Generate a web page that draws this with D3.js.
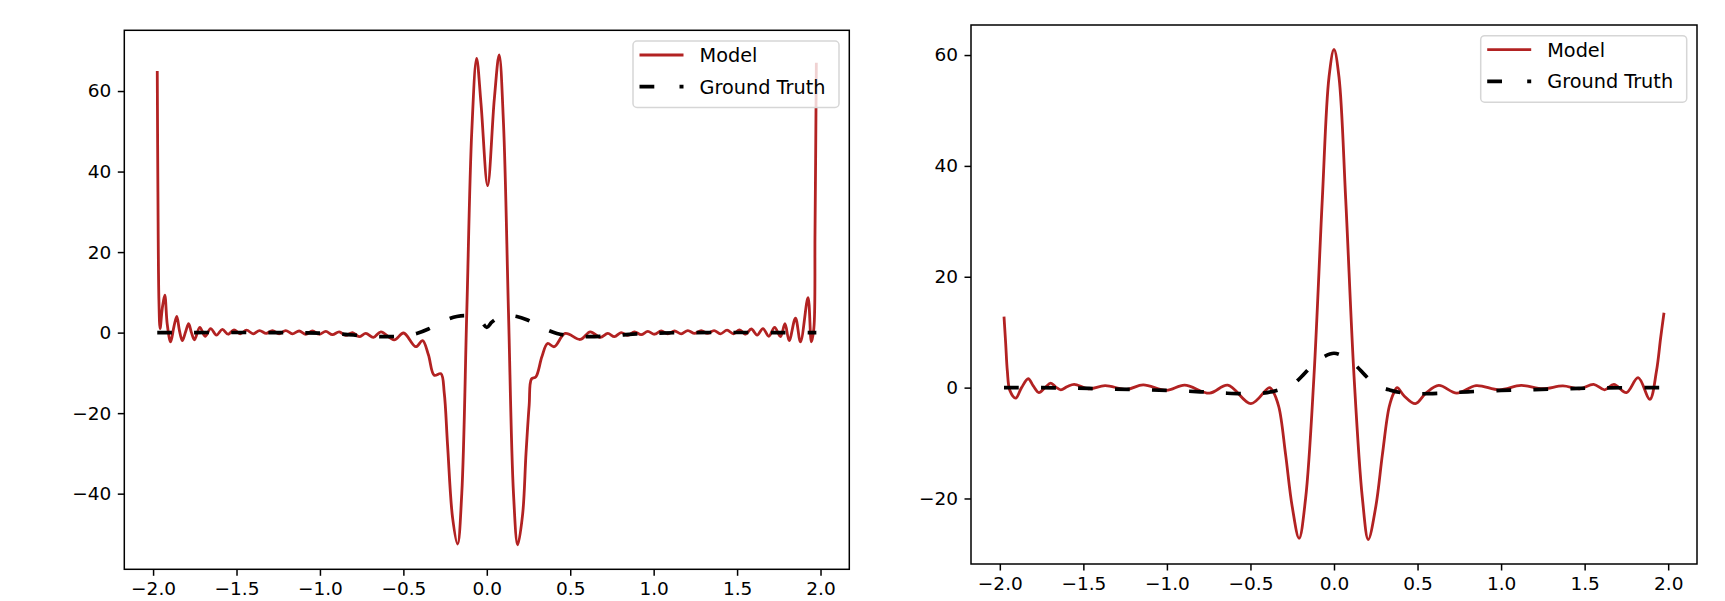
<!DOCTYPE html>
<html>
<head>
<meta charset="utf-8">
<script src="https://cdn.jsdelivr.net/npm/d3@7/dist/d3.min.js"></script>
<style>
  body { margin: 0; background: #fff; }
  svg text { font-family: "DejaVu Sans", sans-serif; }
</style>
</head>
<body>
<div id="chart"></div>
<script>
// tick values shared by both panels
const xTicks = [-2.0, -1.5, -1.0, -0.5, 0.0, 0.5, 1.0, 1.5, 2.0];
const leftYTicks = [-40, -20, 0, 20, 40, 60];
const rightYTicks = [-20, 0, 20, 40, 60];
const seriesNames = ['Model', 'Ground Truth'];

// left panel, model output [x, y]
const leftModel = [
  [-1.975, 65.0], [-1.971, 35.0], [-1.965, 8.0], [-1.958, 1.0], [-1.945, 6.0],
  [-1.930, 9.3], [-1.915, 2.0], [-1.895, -2.3], [-1.875, 1.5], [-1.858, 4.0],
  [-1.842, 0.5], [-1.825, -2.0], [-1.805, 0.2], [-1.787, 2.2], [-1.770, 0.0],
  [-1.752, -1.8], [-1.720, 1.3], [-1.688, -0.9], [-1.655, 1.0], [-1.620, -0.6],
  [-1.585, 0.8], [-1.550, -0.4], [-1.515, 0.7], [-1.478, -0.3], [-1.440, 0.6],
  [-1.400, -0.3], [-1.362, 0.5], [-1.322, -0.2], [-1.285, 0.5], [-1.245, -0.3],
  [-1.205, 0.5], [-1.165, -0.3], [-1.125, 0.4], [-1.085, -0.4], [-1.045, 0.4],
  [-1.005, -0.4], [-0.965, 0.3], [-0.925, -0.5], [-0.885, 0.2], [-0.845, -0.7],
  [-0.805, 0.0], [-0.765, -1.0], [-0.725, -0.2], [-0.680, -1.2], [-0.635, 0.2],
  [-0.555, -1.8], [-0.499, -0.1], [-0.425, -3.5], [-0.385, -2.0], [-0.350, -5.5],
  [-0.315, -10.6], [-0.275, -10.2], [-0.255, -15.0], [-0.235, -28.0], [-0.205, -46.0],
  [-0.175, -52.5], [-0.150, -40.0], [-0.120, 5.0], [-0.090, 50.0], [-0.061, 68.1],
  [-0.035, 57.0], [0.005, 36.5], [0.045, 58.0], [0.074, 69.0], [0.100, 52.0],
  [0.130, 5.0], [0.160, -40.0], [0.185, -52.7], [0.215, -45.0], [0.235, -30.0],
  [0.254, -18.0], [0.268, -11.5], [0.294, -11.0], [0.330, -6.0], [0.364, -2.7],
  [0.404, -3.5], [0.470, -0.2], [0.560, -1.7], [0.620, 0.2], [0.680, -1.2],
  [0.725, -0.2], [0.765, -1.0], [0.805, 0.0], [0.845, -0.7], [0.885, 0.2],
  [0.925, -0.5], [0.965, 0.3], [1.005, -0.4], [1.045, 0.4], [1.085, -0.3],
  [1.125, 0.4], [1.165, -0.3], [1.205, 0.5], [1.245, -0.2], [1.285, 0.5],
  [1.322, -0.2], [1.362, 0.5], [1.400, -0.3], [1.440, 0.6], [1.478, -0.3],
  [1.515, 0.7], [1.550, -0.4], [1.585, 0.9], [1.620, -0.6], [1.655, 1.0],
  [1.690, -0.9], [1.725, 1.3], [1.760, -1.0], [1.787, 2.2], [1.812, -2.0],
  [1.850, 3.6], [1.880, -2.3], [1.925, 8.7], [1.945, -2.3], [1.960, 1.0],
  [1.967, 25.0], [1.975, 67.0]
];

// left panel, ground truth [x, y]
const leftTruth = [
  [-1.975, 0], [-1.2, 0], [-1.0, -0.15], [-0.9, -0.3], [-0.8, -0.6], [-0.7, -0.9],
  [-0.6, -1.0], [-0.5, -0.8], [-0.42, -0.2], [-0.35, 0.9], [-0.3, 2.0], [-0.24, 3.2],
  [-0.18, 4.0], [-0.12, 4.2], [-0.07, 3.7], [-0.03, 2.6], [0, 1.3], [0.03, 2.6],
  [0.07, 3.7], [0.12, 4.2], [0.18, 4.0], [0.24, 3.2], [0.3, 2.0], [0.35, 0.9],
  [0.42, -0.2], [0.5, -0.8], [0.6, -1.0], [0.7, -0.9], [0.8, -0.6], [0.9, -0.3],
  [1.0, -0.15], [1.2, 0], [1.975, 0]
];

// right panel, model output [x, y]
const rightModel = [
  [-1.975, 12.8], [-1.965, 8.0], [-1.955, 3.0], [-1.940, -0.5], [-1.905, -1.9],
  [-1.870, 0.0], [-1.830, 1.6], [-1.800, 0.3], [-1.766, -0.9], [-1.730, 0.0],
  [-1.695, 0.8], [-1.665, 0.1], [-1.635, -0.4], [-1.595, 0.2], [-1.555, 0.6],
  [-1.470, -0.2], [-1.370, 0.35], [-1.241, -0.3], [-1.142, 0.5], [-1.003, -0.5],
  [-0.894, 0.45], [-0.745, -1.0], [-0.636, 0.45], [-0.497, -2.9], [-0.387, 0.0],
  [-0.367, -0.6], [-0.330, -3.5], [-0.290, -12.0], [-0.250, -21.5], [-0.209, -27.2],
  [-0.170, -20.0], [-0.120, 2.0], [-0.070, 34.0], [-0.030, 56.0], [0.000, 61.0],
  [0.030, 56.0], [0.070, 34.0], [0.120, 2.0], [0.170, -20.0], [0.205, -27.4],
  [0.250, -21.5], [0.290, -12.0], [0.330, -3.5], [0.360, -0.8], [0.378, 0.0],
  [0.420, -1.5], [0.487, -2.9], [0.550, -1.0], [0.627, 0.4], [0.735, -1.0],
  [0.850, 0.35], [0.990, -0.4], [1.120, 0.4], [1.250, -0.2], [1.370, 0.3],
  [1.470, -0.2], [1.554, 0.6], [1.620, -0.4], [1.675, 0.6], [1.750, -0.9],
  [1.820, 1.8], [1.890, -2.1], [1.930, 3.0], [1.955, 9.0], [1.975, 13.5]
];

// right panel, ground truth [x, y]
const rightTruth = [
  [-1.975, 0], [-1.6, -0.05], [-1.4, -0.2], [-1.2, -0.35], [-1.0, -0.5], [-0.8, -0.75],
  [-0.65, -1.0], [-0.5, -1.1], [-0.4, -0.9], [-0.33, -0.4], [-0.28, 0.1], [-0.236, 0.8],
  [-0.187, 2.2], [-0.13, 4.0], [-0.07, 5.4], [0, 6.2], [0.07, 5.4], [0.13, 4.0],
  [0.187, 2.2], [0.236, 0.8], [0.28, 0.1], [0.33, -0.4], [0.4, -0.9], [0.5, -1.1],
  [0.65, -1.0], [0.8, -0.75], [1.0, -0.5], [1.2, -0.35], [1.4, -0.2], [1.6, -0.05],
  [1.975, 0]
];

const W = 1725, H = 601;
const modelColor = '#b22222';
const truthDash = '14.8,22.2';
const legendDash = '14.8,25.2';

const svg = d3.select('#chart')
  .append('svg')
  .attr('width', W)
  .attr('height', H);

// pad an extent by 5% each side, like matplotlib autoscale
function padded(values) {
  const [lo, hi] = d3.extent(values);
  const m = (hi - lo) * 0.05;
  return [lo - m, hi + m];
}

function drawPanel(id, box, model, truth, yTicks) {
  const allX = model.concat(truth).map(d => d[0]);
  const allY = model.concat(truth).map(d => d[1]);

  const x = d3.scaleLinear().domain(padded(allX)).range([box.left, box.left + box.width]);
  const y = d3.scaleLinear().domain(padded(allY)).range([box.top + box.height, box.top]);

  const g = svg.append('g');

  svg.append('clipPath')
    .attr('id', id)
    .append('rect')
    .attr('x', box.left)
    .attr('y', box.top)
    .attr('width', box.width)
    .attr('height', box.height);

  const line = d3.line()
    .x(d => x(d[0]))
    .y(d => y(d[1]))
    .curve(d3.curveCatmullRom.alpha(0.5));

  const plot = g.append('g').attr('clip-path', `url(#${id})`);

  plot.append('path')
    .datum(model)
    .attr('fill', 'none')
    .attr('stroke', modelColor)
    .attr('stroke-width', 2.8)
    .attr('d', line);

  plot.append('path')
    .datum(truth)
    .attr('fill', 'none')
    .attr('stroke', '#000')
    .attr('stroke-width', 3.7)
    .attr('stroke-dasharray', truthDash)
    .attr('d', line);

  // axes
  const xAxis = d3.axisBottom(x)
    .tickValues(xTicks)
    .tickSize(6.5)
    .tickPadding(6.5)
    .tickFormat(d => d3.format('.1f')(d).replace('-', '\u2212'));

  const yAxis = d3.axisLeft(y)
    .tickValues(yTicks)
    .tickSize(6.5)
    .tickPadding(6.5)
    .tickFormat(d => String(d).replace('-', '\u2212'));

  const gx = g.append('g')
    .attr('transform', `translate(0,${box.top + box.height})`)
    .call(xAxis);
  const gy = g.append('g')
    .attr('transform', `translate(${box.left},0)`)
    .call(yAxis);

  [gx, gy].forEach(a => {
    a.select('.domain').remove();
    a.selectAll('line').attr('stroke', '#000').attr('stroke-width', 1.5);
    a.selectAll('text')
      .attr('fill', '#000')
      .style('font-size', '18.5px');
  });

  // frame
  g.append('rect')
    .attr('x', box.left)
    .attr('y', box.top)
    .attr('width', box.width)
    .attr('height', box.height)
    .attr('fill', 'none')
    .attr('stroke', '#000')
    .attr('stroke-width', 1.5);

  // legend, upper right
  const lgW = 206, lgH = 66.5;
  const lgX = box.left + box.width - 10.3 - lgW;
  const lgY = box.top + 10.7;
  const legend = g.append('g').attr('transform', `translate(${lgX},${lgY})`);

  legend.append('rect')
    .attr('width', lgW)
    .attr('height', lgH)
    .attr('rx', 4)
    .attr('fill', '#fff')
    .attr('fill-opacity', 0.8)
    .attr('stroke', '#d6d6d6')
    .attr('stroke-width', 1.5);

  const rows = legend.selectAll('.row')
    .data(seriesNames)
    .enter()
    .append('g')
    .attr('class', 'row')
    .attr('transform', (d, i) => `translate(0,${14 + i * 31.7})`);

  rows.append('line')
    .attr('x1', 6.5)
    .attr('x2', 50.5)
    .attr('stroke', (d, i) => i === 0 ? modelColor : '#000')
    .attr('stroke-width', (d, i) => i === 0 ? 2.8 : 3.7)
    .attr('stroke-dasharray', (d, i) => i === 0 ? null : legendDash);

  rows.append('text')
    .attr('x', 66.5)
    .attr('y', 6.9)
    .style('font-size', '19.3px')
    .attr('fill', '#000')
    .text(d => d);
}

drawPanel('clip-left', { left: 124.3, top: 30.3, width: 725, height: 539 },
  leftModel, leftTruth, leftYTicks);
drawPanel('clip-right', { left: 971, top: 25, width: 726, height: 539 },
  rightModel, rightTruth, rightYTicks);
</script>
</body>
</html>
